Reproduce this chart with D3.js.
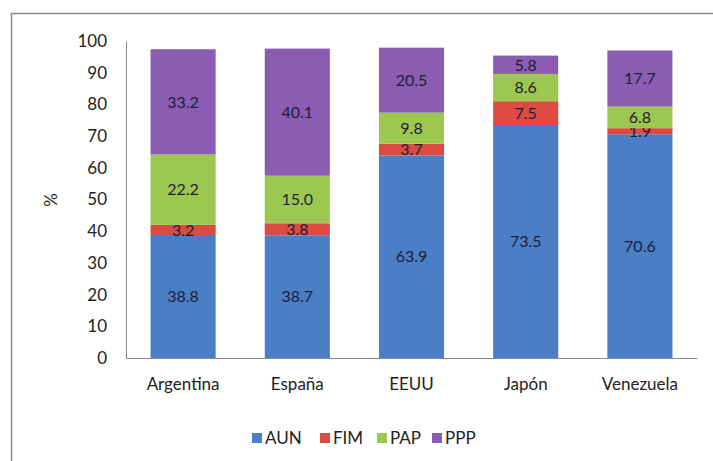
<!DOCTYPE html>
<html lang="es">
<head>
<meta charset="UTF-8">
<title>Chart</title>
<style>
    * { margin: 0; padding: 0; }
    html, body { overflow: hidden; background: #fff; }
    text { font-family: Lato, "Open Sans", sans-serif; }
</style>
</head>
<body>
<div id="chart"></div>
<script src="https://cdn.jsdelivr.net/npm/d3@7"></script>
<script>
    const countries = ['Argentina', 'España', 'EEUU', 'Japón', 'Venezuela']
    const seriesNames = ['AUN', 'FIM', 'PAP', 'PPP']
    const aun = [38.8, 38.7, 63.9, 73.5, 70.6]
    const fim = [3.2, 3.8, 3.7, 7.5, 1.9]
    const pap = [22.2, 15.0, 9.8, 8.6, 6.8]
    const ppp = [33.2, 40.1, 20.5, 5.8, 17.7]
    const yTicks = [0, 10, 20, 30, 40, 50, 60, 70, 80, 90, 100]
    const colors = ['#4A7FC6', '#DC4A42', '#9DC84F', '#8A5DB2']

    function drawChart() {
        const width = 713
        const height = 461
        const svg = d3.select('#chart')
            .append('svg')
            .attr('width', width)
            .attr('height', height)

        // marco exterior (cortado a la derecha y abajo)
        svg.append('rect')
            .attr('x', 11.5).attr('y', 13.5)
            .attr('width', width).attr('height', height)
            .attr('fill', 'none')
            .attr('stroke', '#8a8a8a')
            .attr('stroke-width', 1.5)

        const left = 126, right = 697, top = 41, bottom = 358

        const table = countries.map((c, i) => ({
            country: c, AUN: aun[i], FIM: fim[i], PAP: pap[i], PPP: ppp[i]
        }))
        const stacked = d3.stack().keys(seriesNames)(table)

        const x = d3.scaleBand().domain(countries).range([left, right]).paddingInner(0.43).paddingOuter(0.215)
        const y = d3.scaleLinear().domain([0, 100]).range([bottom, top])

        // eje y
        const yAxis = svg.append('g')
            .attr('transform', `translate(${left},0)`)
            .call(d3.axisLeft(y).tickValues(yTicks).tickSize(0).tickPadding(19))
        yAxis.select('.domain').attr('stroke', '#888')
        yAxis.selectAll('text').attr('font-size', 17).attr('fill', '#222')

        svg.append('text')
            .attr('transform', 'translate(57,200) rotate(-90)')
            .attr('text-anchor', 'middle')
            .attr('font-size', 17)
            .attr('fill', '#222')
            .text('%')

        // barras
        const groups = svg.selectAll('g.serie')
            .data(stacked)
            .join('g')
            .attr('class', 'serie')
            .attr('fill', (d, i) => colors[i])

        groups.selectAll('rect')
            .data(d => d)
            .join('rect')
            .attr('x', d => x(d.data.country))
            .attr('y', d => y(d[1]))
            .attr('width', x.bandwidth())
            .attr('height', d => y(d[0]) - y(d[1]))

        groups.selectAll('text')
            .data(d => d.map(v => ({ v, key: d.key })))
            .join('text')
            .attr('x', d => x(d.v.data.country) + x.bandwidth() / 2)
            .attr('y', d => y((d.v[0] + d.v[1]) / 2))
            .attr('dy', '0.36em')
            .attr('text-anchor', 'middle')
            .attr('font-size', 16)
            .attr('fill', '#1d1d3a')
            .text(d => (d.v[1] - d.v[0]).toFixed(1))

        // eje x
        const xAxis = svg.append('g')
            .attr('transform', `translate(0,${bottom})`)
            .call(d3.axisBottom(x).tickSize(0).tickPadding(20))
        xAxis.select('.domain').attr('stroke', '#888')
        xAxis.selectAll('text').attr('font-size', 17).attr('fill', '#222')

        // leyenda
        const legendX = [252, 320, 377, 432]
        const legend = svg.selectAll('g.legend')
            .data(seriesNames)
            .join('g')
            .attr('class', 'legend')
            .attr('transform', (d, i) => `translate(${legendX[i]},438)`)
        legend.append('rect')
            .attr('x', 0).attr('y', -5)
            .attr('width', 10).attr('height', 10)
            .attr('fill', (d, i) => colors[i])
        legend.append('text')
            .attr('x', 13)
            .attr('dy', '0.36em')
            .attr('font-size', 17)
            .attr('fill', '#222')
            .text(d => d)
    }

    drawChart()
</script>
</body>
</html>
